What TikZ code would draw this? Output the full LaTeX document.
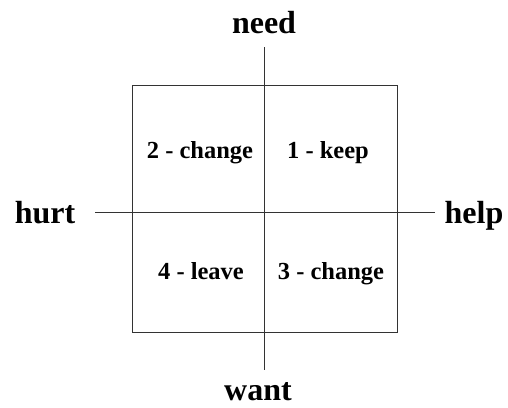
\documentclass[tikz,border=0pt]{standalone}
\usepackage{fontspec}
\setmainfont{Liberation Serif}
\usetikzlibrary{positioning}
\definecolor{cline}{HTML}{333333}
\tikzset{
  axislabel/.style={font=\bfseries\fontsize{32}{36}\selectfont, inner sep=0pt, anchor=base},
  quadlabel/.style={font=\bfseries\fontsize{24.5}{28}\selectfont, inner sep=0pt, anchor=base},
  axisline/.style={draw=cline, line width=1pt},
}
\begin{document}
\begin{tikzpicture}[x=1pt, y=-1pt]
  \useasboundingbox (0,0) rectangle (508,407);
  % ---------- the box ----------
  \draw[axisline] (132,85) rectangle (397,332);
  % ---------- axes ----------
  \coordinate (top) at (264,47);
  \coordinate (bottom) at (264,370);
  \coordinate (left) at (95,212);
  \coordinate (right) at (435,212);
  \draw[axisline] (top) -- (bottom);
  \draw[axisline] (left) -- (right);
  % ---------- axis labels ----------
  \node[axislabel] (need) at (264,33) {need};
  \node[axislabel] (want) at (258,400) {want};
  \node[axislabel] (hurt) at (45,223) {hurt};
  \node[axislabel] (help) at (474,223) {help};
  % ---------- quadrants ----------
  \node[quadlabel] (q2) at (200,158) {2 - change};
  \node[quadlabel] (q1) at (328,158) {1 - keep};
  \node[quadlabel] (q4) at (201,279) {4 - leave};
  \node[quadlabel] (q3) at (331,279) {3 - change};
\end{tikzpicture}
\end{document}
